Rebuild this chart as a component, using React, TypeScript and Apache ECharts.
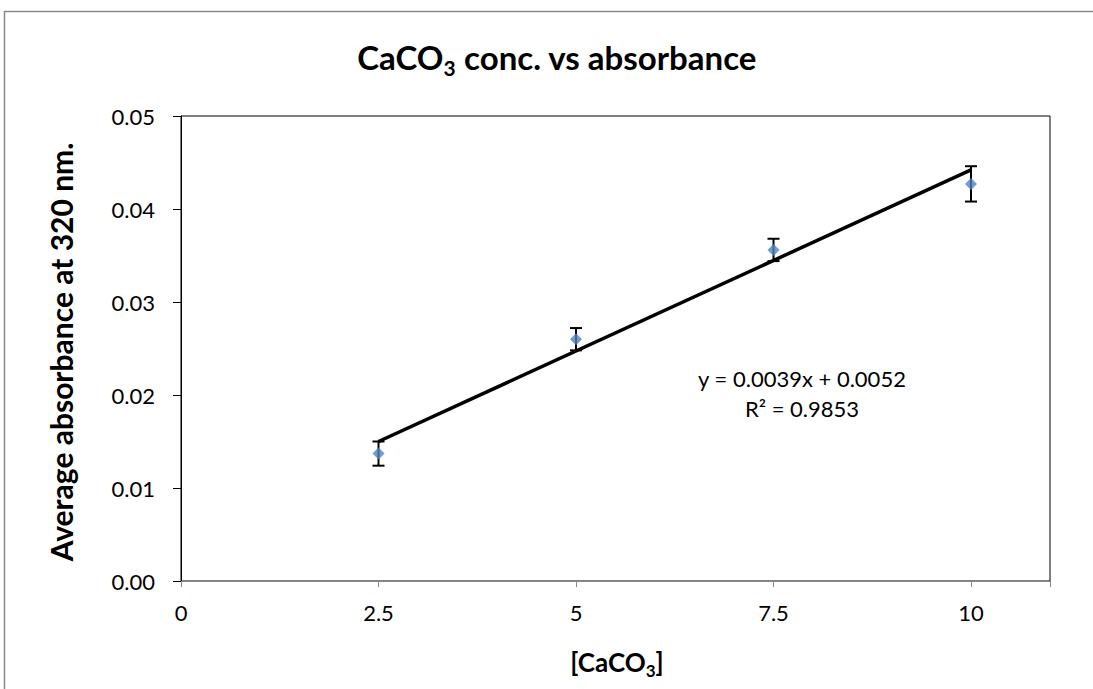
import React, { useEffect, useRef } from 'react';
import * as echarts from 'echarts';

const concentrations = [2.5, 5, 7.5, 10];
const absorbance = [0.0137, 0.026, 0.0356, 0.0427];
const errorMargins = [0.0013, 0.0012, 0.0012, 0.0019];
const trendX = [2.5, 10];
const trendY = [0.015, 0.0442];
const equationText = 'y = 0.0039x + 0.0052';
const r2Text = 'R² = 0.9853';

const FONT = 'Lato, "Open Sans", sans-serif';

export default function App() {
  const ref = useRef<HTMLDivElement>(null);
  useEffect(() => {
    if (!ref.current) return;
    const chart = echarts.init(ref.current, undefined, { renderer: 'svg' });
    const option: any = {
      animation: false,
      backgroundColor: '#fff',
      grid: { left: 181, top: 116, right: 43, bottom: 108, show: true, borderColor: '#000', borderWidth: 1 },
      xAxis: {
        type: 'value', min: 0, max: 11, interval: 2.5,
        axisLine: { show: true, lineStyle: { color: '#888', width: 1 } },
        axisTick: { show: true, length: 6, lineStyle: { color: '#888' } },
        splitLine: { show: false },
        axisLabel: {
          color: '#000', fontSize: 22, fontFamily: FONT, margin: 20,
          formatter: (v: number) => (v > 10 ? '' : String(v)),
        },
      },
      yAxis: {
        type: 'value', min: 0, max: 0.05, interval: 0.01,
        axisLine: { show: true, lineStyle: { color: '#000', width: 1 } },
        axisTick: { show: true, length: 8, lineStyle: { color: '#000' } },
        splitLine: { show: false },
        axisLabel: {
          color: '#000', fontSize: 22, fontFamily: FONT, margin: 26,
          formatter: (v: number) => v.toFixed(2),
        },
      },
      graphic: [
        { type: 'rect', z: -10, shape: { x: 4.5, y: 11.5, width: 1400, height: 1000 }, style: { fill: 'none', stroke: '#888', lineWidth: 1.5 } },
        {
          type: 'text', x: 557, y: 59,
          style: {
            text: '{m|CaCO}{s|3}{m| conc. vs absorbance}',
            align: 'center', verticalAlign: 'middle', fill: '#000',
            rich: {
              m: { fontSize: 33, fontWeight: 'bold', fontFamily: FONT, lineHeight: 38, padding: [0, 0, 6, 0], verticalAlign: 'top', fill: '#000' },
              s: { fontSize: 21, fontWeight: 'bold', fontFamily: FONT, lineHeight: 20, verticalAlign: 'bottom', fill: '#000' },
            },
          },
        },
        {
          type: 'text', x: 617, y: 664,
          style: {
            text: '{m|[CaCO}{s|3}{m|]}',
            align: 'center', verticalAlign: 'middle', fill: '#000',
            rich: {
              m: { fontSize: 26, fontWeight: 'bold', fontFamily: FONT, lineHeight: 30, padding: [0, 0, 5, 0], verticalAlign: 'top', fill: '#000' },
              s: { fontSize: 17, fontWeight: 'bold', fontFamily: FONT, lineHeight: 17, verticalAlign: 'bottom', fill: '#000' },
            },
          },
        },
        {
          type: 'text', x: 61, y: 352, rotation: Math.PI / 2,
          style: {
            text: 'Average absorbance at 320 nm.', align: 'center', verticalAlign: 'middle',
            fontSize: 30, fontWeight: 'bold', fontFamily: FONT, fill: '#000',
          },
        },
        {
          type: 'text', x: 802, y: 378,
          style: { text: equationText, align: 'center', verticalAlign: 'middle', fontSize: 22, fontFamily: FONT, fill: '#000' },
        },
        {
          type: 'text', x: 802, y: 408,
          style: { text: r2Text, align: 'center', verticalAlign: 'middle', fontSize: 22, fontFamily: FONT, fill: '#000' },
        },
      ],
      series: [
        {
          type: 'line', z: 2, symbol: 'none',
          data: trendX.map((x, i) => [x, trendY[i]]),
          lineStyle: { color: '#000', width: 3.5 },
        },
        {
          type: 'custom', z: 3,
          data: concentrations.map((x, i) => [x, absorbance[i] - errorMargins[i], absorbance[i] + errorMargins[i]]),
          renderItem: (_p: any, api: any) => {
            const x = api.value(0);
            const lo = api.coord([x, api.value(1)]);
            const hi = api.coord([x, api.value(2)]);
            const w = 6;
            const style = { stroke: '#000', lineWidth: 2 };
            return {
              type: 'group',
              children: [
                { type: 'line', shape: { x1: lo[0], y1: lo[1], x2: hi[0], y2: hi[1] }, style },
                { type: 'line', shape: { x1: lo[0] - w, y1: lo[1], x2: lo[0] + w, y2: lo[1] }, style },
                { type: 'line', shape: { x1: hi[0] - w, y1: hi[1], x2: hi[0] + w, y2: hi[1] }, style },
              ],
            };
          },
        },
        {
          type: 'scatter', z: 4, symbol: 'diamond', symbolSize: 12,
          itemStyle: { color: '#4F81BD' },
          data: concentrations.map((x, i) => [x, absorbance[i]]),
        },
      ],
    };
    chart.setOption(option);
    return () => chart.dispose();
  }, []);
  return <div ref={ref} style={{ position: 'absolute', left: 0, top: 0, width: 1093, height: 689 }} />;
}
